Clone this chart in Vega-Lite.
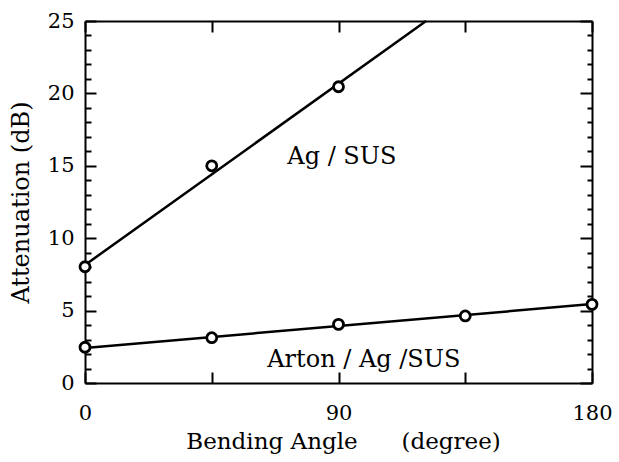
{
  "$schema": "https://vega.github.io/schema/vega-lite/v6.json",
  "width": 507,
  "height": 362,
  "autosize": {"type": "none"},
  "padding": {"left": 85, "top": 21, "right": 27, "bottom": 79},
  "background": "white",
  "config": {
    "view": {"stroke": null},
    "axis": {
      "grid": false,
      "domainColor": "black",
      "domainWidth": 2,
      "tickColor": "black",
      "tickWidth": 2,
      "labelColor": "black",
      "titleColor": "black",
      "labelFont": "DejaVu Serif",
      "titleFont": "DejaVu Serif",
      "titleFontWeight": "normal"
    }
  },
  "datasets": {
    "fits": [
      {"series": "Ag / SUS", "angle": 0, "att": 8.15},
      {"series": "Ag / SUS", "angle": 121.1, "att": 25},
      {"series": "Arton / Ag /SUS", "angle": 0, "att": 2.42},
      {"series": "Arton / Ag /SUS", "angle": 180, "att": 5.45}
    ],
    "points": [
      {"series": "Ag / SUS", "angle": 0, "att": 8.03},
      {"series": "Ag / SUS", "angle": 45, "att": 15.0},
      {"series": "Ag / SUS", "angle": 90, "att": 20.46},
      {"series": "Arton / Ag /SUS", "angle": 0, "att": 2.47},
      {"series": "Arton / Ag /SUS", "angle": 45, "att": 3.13},
      {"series": "Arton / Ag /SUS", "angle": 90, "att": 4.05},
      {"series": "Arton / Ag /SUS", "angle": 135, "att": 4.63},
      {"series": "Arton / Ag /SUS", "angle": 180, "att": 5.43}
    ],
    "labels": [
      {"label": "Ag / SUS", "angle": 91.2, "att": 15.1},
      {"label": "Arton / Ag /SUS", "angle": 99.0, "att": 1.13}
    ]
  },
  "layer": [
    {
      "data": {"name": "fits"},
      "mark": {"type": "line", "color": "black", "strokeWidth": 2.5},
      "encoding": {
        "x": {
          "field": "angle", "type": "quantitative",
          "scale": {"domain": [0, 180], "nice": false, "zero": false},
          "axis": {
            "orient": "bottom",
            "values": [0, 45, 90, 135, 180],
            "labelExpr": "datum.value % 90 === 0 ? datum.label : ''",
            "tickSize": -11,
            "labelFontSize": 21,
            "labelBaseline": "alphabetic",
            "labelPadding": 47,
            "labelFlush": false,
            "title": "Bending Angle\u00a0\u00a0\u00a0\u00a0\u00a0\u00a0(degree)",
            "titleFontSize": 23,
            "titleX": 258,
            "titleY": 65,
            "titleAlign": "center",
            "titleBaseline": "alphabetic"
          }
        },
        "y": {
          "field": "att", "type": "quantitative",
          "scale": {"domain": [0, 25], "nice": false},
          "axis": {
            "orient": "left",
            "values": [0,1,2,3,4,5,6,7,8,9,10,11,12,13,14,15,16,17,18,19,20,21,22,23,24,25],
            "labelExpr": "datum.value % 5 === 0 ? datum.label : ''",
            "tickSize": {"condition": {"test": "datum.value % 5 === 0", "value": -11}, "value": -6},
            "labelFontSize": 21,
            "labelPadding": 22,
            "labelFlush": false,
            "labelBaseline": "middle",
            "title": "Attenuation (dB)",
            "titleFontSize": 24,
            "titleAngle": -90,
            "titleX": -64,
            "titleY": 181,
            "titleAlign": "center",
            "titleBaseline": "middle"
          }
        },
        "detail": {"field": "series"}
      }
    },
    {
      "data": {"name": "points"},
      "mark": {"type": "point", "shape": "circle", "filled": true, "fill": "white", "stroke": "black", "strokeWidth": 2.8, "size": 100, "opacity": 1},
      "encoding": {
        "x": {
          "field": "angle", "type": "quantitative",
          "axis": {
            "orient": "top",
            "values": [0, 45, 90, 135, 180],
            "labels": false,
            "tickSize": -11,
            "title": null
          }
        },
        "y": {
          "field": "att", "type": "quantitative",
          "axis": {
            "orient": "right",
            "values": [0,1,2,3,4,5,6,7,8,9,10,11,12,13,14,15,16,17,18,19,20,21,22,23,24,25],
            "labels": false,
            "tickSize": {"condition": {"test": "datum.value % 5 === 0", "value": -12}, "value": -5},
            "title": null
          }
        }
      }
    },
    {
      "data": {"name": "labels"},
      "mark": {"type": "text", "font": "DejaVu Serif", "fontSize": 24, "align": "center", "baseline": "alphabetic", "color": "black"},
      "encoding": {
        "x": {"field": "angle", "type": "quantitative", "axis": null},
        "y": {"field": "att", "type": "quantitative", "axis": null},
        "text": {"field": "label"}
      }
    }
  ],
  "resolve": {"axis": {"x": "independent", "y": "independent"}}
}
